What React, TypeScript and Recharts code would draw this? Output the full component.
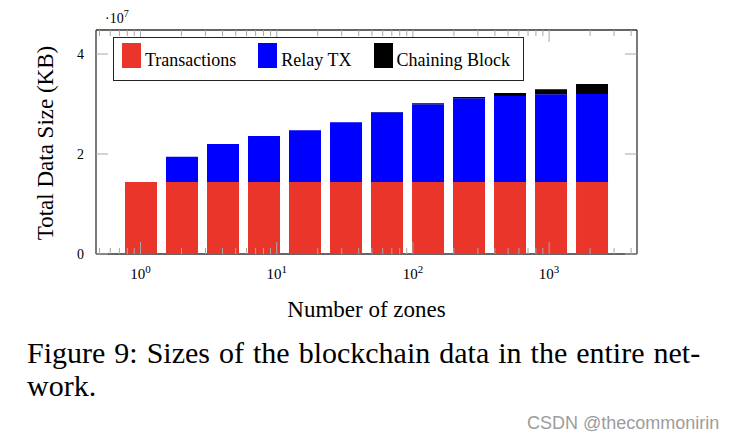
import React from 'react';
import { BarChart, Bar, XAxis, YAxis, Legend } from 'recharts';

// ---------- data ----------
const zones = [1, 2, 4, 8, 16, 32, 64, 128, 256, 512, 1024, 2048];
// values in units of 10^7 KB
const transactions = [1.44, 1.44, 1.44, 1.44, 1.44, 1.44, 1.44, 1.44, 1.44, 1.44, 1.44, 1.44];
const relayTx = [0, 0.507, 0.76, 0.92, 1.035, 1.193, 1.395, 1.555, 1.673, 1.72, 1.753, 1.76];
const chainingBlock = [0, 0, 0, 0, 0, 0, 0.005, 0.018, 0.027, 0.06, 0.1, 0.2];

const seriesNames = ['Transactions', 'Relay TX', 'Chaining Block'];
const seriesColors = ['#e9352a', '#0000ff', '#000000'];

const majorXTicks = [1, 10, 100, 1000];
const minorXTicks = [
  0.5, 0.6, 0.7, 0.8, 0.9,
  2, 3, 4, 5, 6, 7, 8, 9,
  20, 30, 40, 50, 60, 70, 80, 90,
  200, 300, 400, 500, 600, 700, 800, 900,
  2000, 3000, 4000,
];
const yTicks = [0, 2, 4];
const yExponent = 7;

const xTitle = 'Number of zones';
const yTitle = 'Total Data Size (KB)';
const captionLine1 = 'Figure 9: Sizes of the blockchain data in the entire net-';
const captionLine2 = 'work.';
const watermark = 'CSDN @thecommonirin';

const data = zones.map((z, i) => ({
  zones: z,
  transactions: transactions[i],
  relay: relayTx[i],
  chaining: chainingBlock[i],
}));

const allXTicks = [...majorXTicks, ...minorXTicks].sort((a, b) => a - b);

const SERIF = "'Liberation Serif', 'Times New Roman', 'DejaVu Serif', serif";
const TICK_COLOR = '#a8a8a8';
const AXIS_COLOR = '#333333';
const X_DOMAIN: [number, number] = [0.4713, 4418];
const Y_DOMAIN: [number, number] = [0, 4.48];

const isMajor = (v: number) => majorXTicks.includes(v);

function BottomTick(props: any) {
  const { x, y, payload } = props;
  const v = payload.value;
  const major = isMajor(v);
  return (
    <g>
      <line x1={x} x2={x} y1={y} y2={y - (major ? 12 : 6)} stroke={TICK_COLOR} strokeWidth={1} />
      {major && (
        <text x={x} y={y + 25} textAnchor="middle" fontFamily={SERIF} fontSize={15} fill="#000">
          <tspan>10</tspan>
          <tspan dy={-6} fontSize={11}>{Math.round(Math.log10(v))}</tspan>
        </text>
      )}
    </g>
  );
}

function TopTick(props: any) {
  const { x, y, payload } = props;
  const major = isMajor(payload.value);
  return <line x1={x} x2={x} y1={y} y2={y + (major ? 12 : 6)} stroke={TICK_COLOR} strokeWidth={1} />;
}

function LeftTick(props: any) {
  const { x, y, payload } = props;
  return (
    <g>
      <line x1={x} x2={x + 12} y1={y} y2={y} stroke={TICK_COLOR} strokeWidth={1} />
      <text x={x - 12} y={y + 5} textAnchor="end" fontFamily={SERIF} fontSize={14} fill="#000">
        {payload.value}
      </text>
    </g>
  );
}

function RightTick(props: any) {
  const { x, y } = props;
  return <line x1={x} x2={x - 12} y1={y} y2={y} stroke={TICK_COLOR} strokeWidth={1} />;
}

function YLabel(props: any) {
  const vb = props.viewBox || { x: 0, y: 30, width: 96, height: 224 };
  const cx = vb.x + 53;
  const cy = vb.y + vb.height / 2 + 1;
  return (
    <g>
      <text
        x={cx}
        y={cy}
        transform={`rotate(-90, ${cx}, ${cy})`}
        textAnchor="middle"
        fontFamily={SERIF}
        fontSize={23}
        fill="#000"
      >
        {yTitle}
      </text>
      <text x={vb.x + vb.width + 9} y={vb.y - 7} fontFamily={SERIF} fontSize={14} fill="#000">
        <tspan>·10</tspan>
        <tspan dy={-6} fontSize={10}>{yExponent}</tspan>
      </text>
    </g>
  );
}

function XLabel(props: any) {
  const vb = props.viewBox || { x: 96, y: 254, width: 541, height: 62 };
  return (
    <text x={vb.x + vb.width / 2} y={vb.y + 63} textAnchor="middle" fontFamily={SERIF} fontSize={23} fill="#000">
      {xTitle}
    </text>
  );
}

function LegendContent(props: any) {
  const raw = props.payload || [];
  const payload = seriesNames
    .map((n) => raw.find((p: any) => p.value === n))
    .filter(Boolean);
  return (
    <div
      style={{
        boxSizing: 'border-box',
        width: 411,
        height: 44,
        border: '1px solid #222',
        background: '#fff',
        display: 'flex',
        alignItems: 'flex-start',
        padding: '5px 0 0 8px',
      }}
    >
      {payload.map((p: any, i: number) => (
        <div
          key={i}
          style={{ display: 'flex', alignItems: 'flex-start', marginRight: i < payload.length - 1 ? 22 : 0 }}
        >
          <span style={{ display: 'inline-block', width: 19, height: 25, background: p.color, marginRight: 4 }} />
          <span
            style={{
              fontFamily: SERIF,
              fontSize: 18,
              lineHeight: '25px',
              paddingTop: 5,
              color: '#000',
              whiteSpace: 'nowrap',
            }}
          >
            {p.value}
          </span>
        </div>
      ))}
    </div>
  );
}

export default function App() {
  return (
    <div style={{ position: 'absolute', left: 0, top: 0, width: 734, height: 439, background: '#fff', overflow: 'hidden' }}>
      <BarChart
        width={734}
        height={330}
        data={data}
        margin={{ top: 29, right: 96, bottom: 14, left: 0 }}
        barSize={32}
      >
        <XAxis
          xAxisId="bottom"
          dataKey="zones"
          type="number"
          scale="log"
          domain={X_DOMAIN}
          allowDataOverflow
          ticks={allXTicks}
          interval={0}
          tickSize={0}
          tickMargin={0}
          tickLine={false}
          tick={<BottomTick />}
          axisLine={{ stroke: AXIS_COLOR, strokeWidth: 1.3 }}
          height={62}
          label={<XLabel />}
          zIndex={100}
        />
        <XAxis
          xAxisId="top"
          orientation="top"
          dataKey="zones"
          type="number"
          scale="log"
          domain={X_DOMAIN}
          allowDataOverflow
          ticks={allXTicks}
          interval={0}
          tickSize={0}
          tickMargin={0}
          tickLine={false}
          tick={<TopTick />}
          axisLine={{ stroke: AXIS_COLOR, strokeWidth: 1.3 }}
          height={1}
        />
        <YAxis
          yAxisId="left"
          type="number"
          domain={Y_DOMAIN}
          allowDataOverflow
          ticks={yTicks}
          interval={0}
          tickSize={0}
          tickMargin={0}
          tickLine={false}
          tick={<LeftTick />}
          axisLine={{ stroke: AXIS_COLOR, strokeWidth: 1.3 }}
          width={96}
          label={<YLabel />}
        />
        <YAxis
          yAxisId="right"
          orientation="right"
          type="number"
          domain={Y_DOMAIN}
          allowDataOverflow
          ticks={yTicks}
          interval={0}
          tickSize={0}
          tickMargin={0}
          tickLine={false}
          tick={<RightTick />}
          axisLine={{ stroke: AXIS_COLOR, strokeWidth: 1.3 }}
          width={1}
        />
        <Bar xAxisId="bottom" yAxisId="left" dataKey="transactions" name={seriesNames[0]} stackId="s" fill={seriesColors[0]} isAnimationActive={false} />
        <Bar xAxisId="bottom" yAxisId="left" dataKey="relay" name={seriesNames[1]} stackId="s" fill={seriesColors[1]} isAnimationActive={false} />
        <Bar xAxisId="bottom" yAxisId="left" dataKey="chaining" name={seriesNames[2]} stackId="s" fill={seriesColors[2]} isAnimationActive={false} />
        <Legend
          layout="horizontal"
          verticalAlign="middle"
          align="center"
          content={<LegendContent />}
          wrapperStyle={{ left: 113, top: 37, width: 'auto', height: 'auto' }}
        />
      </BarChart>
      <div
        style={{
          position: 'absolute',
          left: 27,
          top: 336,
          fontFamily: SERIF,
          fontSize: 30,
          lineHeight: '33px',
          color: '#000',
          whiteSpace: 'nowrap',
          wordSpacing: 1.5,
        }}
      >
        <div>{captionLine1}</div>
        <div>{captionLine2}</div>
      </div>
      <div
        style={{
          position: 'absolute',
          left: 527,
          top: 414,
          fontFamily: "'Liberation Sans', Arial, sans-serif",
          fontSize: 18,
          lineHeight: '18px',
          color: '#9c9c9c',
          whiteSpace: 'nowrap',
        }}
      >
        {watermark}
      </div>
    </div>
  );
}
